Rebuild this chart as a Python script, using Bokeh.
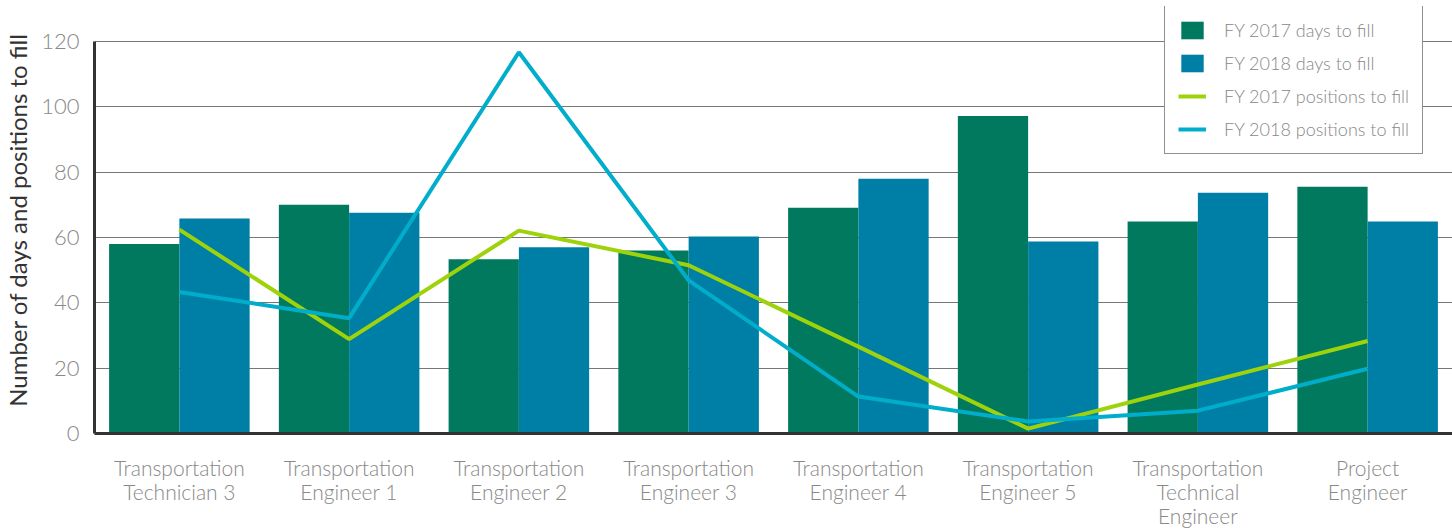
from bokeh.plotting import figure
from bokeh.models import ColumnDataSource, FactorRange, Legend, LegendItem, Range1d, SingleIntervalTicker
from bokeh.transform import dodge
from bokeh.embed import file_html
from bokeh.resources import INLINE

categories = ["Transportation\nTechnician 3", "Transportation\nEngineer 1", "Transportation\nEngineer 2",
              "Transportation\nEngineer 3", "Transportation\nEngineer 4", "Transportation\nEngineer 5",
              "Transportation\nTechnical\nEngineer", "Project\nEngineer"]
days_2017 = [58, 70, 53.3, 56, 69.1, 97.2, 64.9, 75.5]
days_2018 = [65.8, 67.6, 57, 60.3, 78, 58.8, 73.7, 64.9]
pos_2017 = [62.4, 28.9, 62.1, 51.5, 26.6, 1.5, 15, 28.3]
pos_2018 = [43.3, 35.3, 116.7, 46.9, 11.3, 3.7, 7, 19.8]

src = ColumnDataSource(dict(cat=categories, d17=days_2017, d18=days_2018, p17=pos_2017, p18=pos_2018))

LIGHT = "'Lato Light', Lato, sans-serif"
GREY = "#888888"

p = figure(width=1452, height=531, x_range=FactorRange(*categories, range_padding=0),
           y_range=Range1d(0, 130.7), output_backend="svg", toolbar_location=None,
           min_border_left=93, min_border_right=0, min_border_top=6, min_border_bottom=96)
p.outline_line_color = None
p.background_fill_color = "white"
p.border_fill_color = "white"

green, blue, lime, cyan = "#00795E", "#007FA6", "#9ED30C", "#00ADCB"

r1 = p.vbar(x=dodge("cat", -0.207, range=p.x_range), top="d17", width=0.414, source=src,
            fill_color=green, line_color=None)
r2 = p.vbar(x=dodge("cat", 0.207, range=p.x_range), top="d18", width=0.414, source=src,
            fill_color=blue, line_color=None)
r3 = p.line(x="cat", y="p17", source=src, line_color=lime, line_width=4)
r4 = p.line(x="cat", y="p18", source=src, line_color=cyan, line_width=4)

p.xgrid.grid_line_color = None
p.ygrid.grid_line_color = "#777777"
p.ygrid.grid_line_width = 1.2
p.ygrid.level = "underlay"

p.yaxis.ticker = SingleIntervalTicker(interval=20)
p.yaxis.bounds = (0, 120)
p.yaxis.axis_line_color = "#333333"
p.yaxis.axis_line_width = 3
p.yaxis.major_tick_line_color = None
p.yaxis.minor_tick_line_color = None
p.yaxis.major_label_text_font = LIGHT
p.yaxis.major_label_text_font_size = "22px"
p.yaxis.major_label_text_color = GREY
p.yaxis.major_label_standoff = 9
p.yaxis.axis_label = "Number of days and positions to fill"
p.yaxis.axis_label_text_font = "Lato"
p.yaxis.axis_label_text_font_style = "normal"
p.yaxis.axis_label_text_font_size = "24px"
p.yaxis.axis_label_text_color = "#333333"
p.yaxis.axis_label_standoff = 6

p.xaxis.axis_line_color = "#333333"
p.xaxis.axis_line_width = 3
p.xaxis.major_tick_line_color = None
p.xaxis.minor_tick_line_color = None
p.xaxis.major_label_text_font = LIGHT
p.xaxis.major_label_text_font_size = "21px"
p.xaxis.major_label_text_color = GREY
p.xaxis.major_label_standoff = 15
p.xaxis.major_label_text_line_height = 0.97

legend = Legend(items=[
    LegendItem(label="FY 2017 days to fill", renderers=[r1]),
    LegendItem(label="FY 2018 days to fill", renderers=[r2]),
    LegendItem(label="FY 2017 positions to fill", renderers=[r3]),
    LegendItem(label="FY 2018 positions to fill", renderers=[r4]),
], location=(1070, 279))
legend.border_line_color = "#222222"
legend.border_line_width = 1.5
legend.background_fill_color = "white"
legend.background_fill_alpha = 1
legend.label_text_font = LIGHT
legend.label_text_font_size = "18px"
legend.label_text_color = GREY
legend.glyph_width = 28
legend.glyph_height = 22
legend.spacing = 11
legend.padding = 13
legend.margin = 0
legend.label_standoff = 18
p.add_layout(legend, "center")

open("out.html", "w").write(file_html(p, INLINE))
